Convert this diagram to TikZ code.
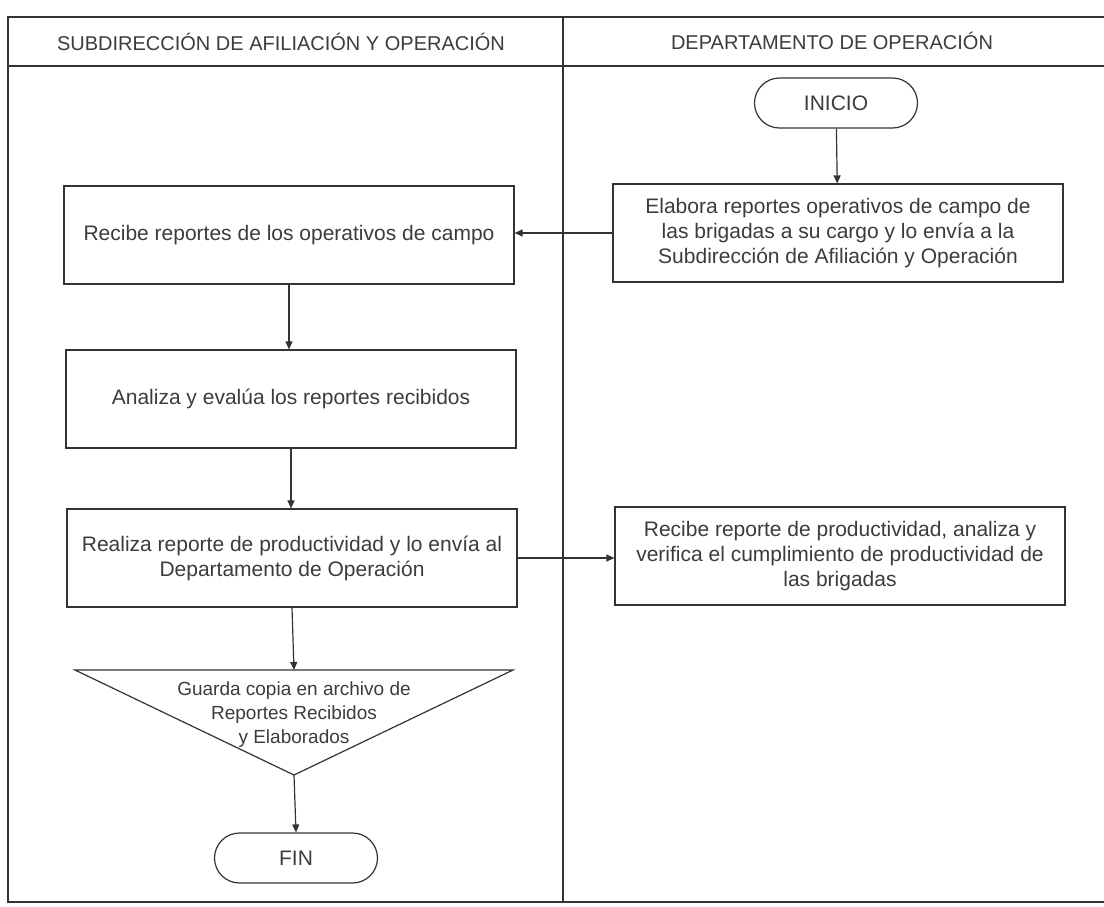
\documentclass[tikz,border=0pt]{standalone}
\usepackage{fontspec}
\setmainfont{Liberation Sans}
\usetikzlibrary{arrows.meta}
\definecolor{linec}{HTML}{333333}
\definecolor{textc}{HTML}{3C3C3C}
\newcommand{\bodyfnt}{\fontsize{21}{25}\selectfont}
\newcommand{\headfnt}{\fontsize{20}{24}\selectfont}
\newcommand{\trifnt}{\fontsize{19}{24}\selectfont}
\tikzset{
  frameline/.style={draw=linec, line width=1.3pt},
  procbox/.style={draw=linec, line width=1.2pt, fill=white, minimum width=450pt, minimum height=98pt, align=center, text=textc, font=\bodyfnt, inner sep=0pt},
  termbox/.style={draw=linec, line width=1.2pt, fill=white, rounded corners=25pt, minimum width=163pt, minimum height=50pt, text=textc, font=\bodyfnt, inner sep=0pt},
  headtxt/.style={text=textc, font=\headfnt, inner sep=0pt},
  conn/.style={draw=linec, line width=1.2pt, -{Triangle[length=8pt,width=7pt]}}
}
\begin{document}
\begin{tikzpicture}[x=1pt,y=-1pt]
\useasboundingbox[fill=white] (0,0) rectangle (1104,906);
% lanes frame
\draw[frameline] (1104,17) -- (8,17) -- (8,902) -- (1104,902);
\draw[frameline] (8,66) -- (1104,66);
\draw[frameline] (563,17) -- (563,902);
\node[headtxt] (h1) at (281,42) {SUBDIRECCIÓN DE AFILIACIÓN Y OPERACIÓN};
\node[headtxt] (h2) at (832,41) {DEPARTAMENTO DE OPERACIÓN};
% right lane
\node[termbox] (inicio) at (836,103) {INICIO};
\node[procbox] (elabora) at (838,233) {Elabora reportes operativos de campo de\\las brigadas a su cargo y lo envía a la\\Subdirección de Afiliación y Operación};
\node[procbox] (verifica) at (840,556) {Recibe reporte de productividad, analiza y\\verifica el cumplimiento de productividad de\\las brigadas};
% left lane
\node[procbox] (recibe) at (289,235) {Recibe reportes de los operativos de campo};
\node[procbox] (analiza) at (291,399) {Analiza y evalúa los reportes recibidos};
\node[procbox] (realiza) at (292,558) {Realiza reporte de productividad y lo envía al\\Departamento de Operación};
% archive triangle
\coordinate (tritop) at (294,670);
\coordinate (triapex) at (294,775);
\draw[draw=linec, line width=1.2pt, fill=white] (75,670) -- (513,670) -- (triapex) -- cycle;
\node[text=textc, font=\trifnt, align=center, inner sep=0pt] (guarda) at (294,715) {Guarda copia en archivo de\\Reportes Recibidos\\y Elaborados};
\node[termbox] (fin) at (296,858) {FIN};
% connectors
\draw[conn] (inicio) -- (elabora);
\draw[conn] (elabora.west) -- (elabora.west -| recibe.east);
\draw[conn] (recibe.south) -- (recibe.south |- analiza.north);
\draw[conn] (analiza.south) -- (analiza.south |- realiza.north);
\draw[conn] (realiza.east) -- (realiza.east -| verifica.west);
\draw[conn] (realiza.south) -- (tritop);
\draw[conn] (triapex) -- (fin.north);
\end{tikzpicture}
\end{document}
